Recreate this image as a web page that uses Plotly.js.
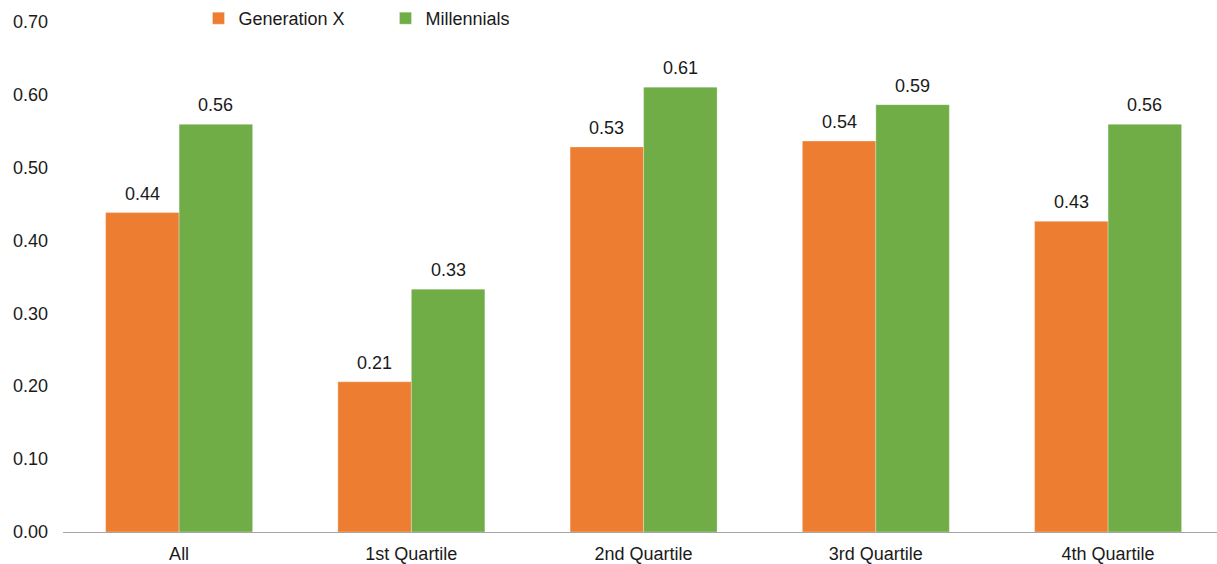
<!DOCTYPE html>
<html>
<head>
<meta charset="utf-8">
<script src="https://cdn.plot.ly/plotly-3.0.1.min.js"></script>
<style>
  html, body { margin: 0; padding: 0; background: #fff; }
  #chart { width: 1217px; height: 564px; }
</style>
</head>
<body>
<div id="chart"></div>
<script>
// Income quartile groups
const categories = ['All', '1st Quartile', '2nd Quartile', '3rd Quartile', '4th Quartile'];
const genX = [0.438, 0.206, 0.528, 0.536, 0.426];
const millennials = [0.559, 0.333, 0.610, 0.586, 0.559];
const seriesNames = ['Generation X', 'Millennials'];
const seriesColors = ['#ED7D31', '#70AD47'];

const FONT = 'Liberation Sans, Arial, sans-serif';
const TEXT_COLOR = '#1a1a1a';
const FONT_SIZE = 18;
const BARGAP = 0.367;

const traces = [genX, millennials].map((vals, k) => ({
  type: 'bar',
  name: seriesNames[k],
  x: categories,
  y: vals,
  marker: { color: seriesColors[k], line: { color: 'rgba(255,255,255,0.6)', width: 0.5 } },
  hoverinfo: 'x+y+name'
}));

// Value labels above each bar, placed at the centre of each bar in its group
const half = (1 - BARGAP) / 4;
const annotations = [];
[genX, millennials].forEach((vals, k) => {
  vals.forEach((v, i) => {
    annotations.push({
      x: i + (k === 0 ? -half : half),
      y: v,
      xref: 'x', yref: 'y',
      text: v.toFixed(2),
      showarrow: false,
      yanchor: 'bottom',
      yshift: 7,
      font: { family: FONT, size: FONT_SIZE, color: TEXT_COLOR }
    });
  });
});

const layout = {
  width: 1217,
  height: 564,
  margin: { l: 63, r: 0, t: 0, b: 32 },
  paper_bgcolor: '#ffffff',
  plot_bgcolor: '#ffffff',
  barmode: 'group',
  bargap: BARGAP,
  bargroupgap: 0,
  font: { family: FONT, size: FONT_SIZE, color: TEXT_COLOR },
  showlegend: true,
  legend: {
    orientation: 'h',
    x: 0.1174, xanchor: 'left',
    y: 1, yanchor: 'top',
    entrywidth: 142, entrywidthmode: 'pixels',
    itemwidth: 30,
    font: { family: FONT, size: FONT_SIZE, color: TEXT_COLOR },
    bgcolor: 'rgba(0,0,0,0)'
  },
  xaxis: {
    type: 'category',
    // the category axis runs slightly past the right edge of the frame
    range: [-0.5, 4.469],
    showgrid: false,
    showline: true,
    linecolor: '#A6A6A6',
    linewidth: 1,
    ticks: '',
    ticklabelstandoff: 5,
    tickfont: { family: FONT, size: FONT_SIZE, color: TEXT_COLOR },
    zeroline: false
  },
  yaxis: {
    // headroom above 0.70 leaves space for the legend inside the frame
    range: [0, 0.7295],
    tick0: 0,
    dtick: 0.1,
    tickformat: '.2f',
    showgrid: false,
    showline: false,
    zeroline: false,
    ticks: '',
    ticklabelstandoff: 14,
    tickfont: { family: FONT, size: FONT_SIZE, color: TEXT_COLOR }
  },
  annotations: annotations
};

Plotly.newPlot('chart', traces, layout, { displayModeBar: false, staticPlot: true });
</script>
</body>
</html>
